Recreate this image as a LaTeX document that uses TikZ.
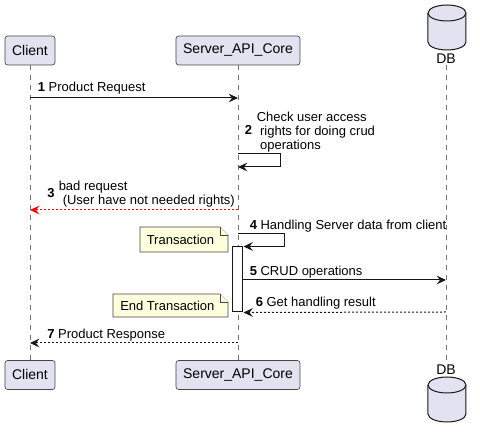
\documentclass[tikz,border=0pt]{standalone}
\usepackage{fontspec}
\setmainfont{Liberation Sans}
\usepackage{tikz}
\usetikzlibrary{arrows.meta}

\begin{document}
\begin{tikzpicture}[
      x=0.75pt, y=-0.75pt,
      font=\fontsize{9.75}{10.5}\selectfont,
      part/.style={rectangle, rounded corners=2pt, draw=seqline!80, line width=0.5pt, fill=seqpart,
        minimum height=21.75pt, inner xsep=4.5pt, font=\fontsize{10.5}{12}\selectfont},
      dbname/.style={inner sep=0.5pt, font=\fontsize{10.5}{12}\selectfont},
      cyl/.style={draw=seqline, line width=0.75pt, fill=seqpart},
      life/.style={draw=seqline!60, line width=0.5pt, dash pattern=on 3.75pt off 3.75pt},
      msg/.style={-{Stealth[length=7pt, width=6.5pt, inset=2.5pt]}, line width=0.75pt, seqline},
      reply/.style={msg, dash pattern=on 1.5pt off 1.5pt},
      lbl/.style={anchor=base west, inner sep=0pt},
      notebox/.style={draw=seqline!80, line width=0.5pt, fill=seqnote},
      act/.style={rectangle, draw=seqline, line width=0.75pt, fill=white,
        minimum width=7.5pt, minimum height=48.75pt, inner sep=0pt},
    ]
    \definecolor{seqpart}{RGB}{226,226,240}
    \definecolor{seqnote}{RGB}{254,255,221}
    \definecolor{seqline}{RGB}{24,24,24}
    \definecolor{seqred}{RGB}{255,0,0}

    \useasboundingbox (0,0) rectangle (480,438);

    \node[part, minimum width=37.5pt] (clientT) at (30,50.5) {Client};
    \node[part, minimum width=93pt]   (serverT) at (238,50.5) {Server\_API\_Core};
    \node[part, minimum width=37.5pt] (clientB) at (30,375) {Client};
    \node[part, minimum width=93pt]   (serverB) at (238,375) {Server\_API\_Core};

    % database, top and bottom
    \draw[cyl] (428,13) -- (428,42) arc[start angle=180, end angle=360, x radius=14.25pt, y radius=6pt]
      -- (466,13) arc[start angle=0, end angle=180, x radius=14.25pt, y radius=6pt] -- cycle;
    \draw[cyl] (428,13) arc[start angle=180, end angle=360, x radius=14.25pt, y radius=6pt];
    \node[dbname] (dbT) at (446,59) {DB};
    \node[dbname] (dbB) at (446,370) {DB};
    \draw[cyl] (428,385) -- (428,414) arc[start angle=180, end angle=360, x radius=14.25pt, y radius=6pt]
      -- (466,385) arc[start angle=0, end angle=180, x radius=14.25pt, y radius=6pt] -- cycle;
    \draw[cyl] (428,385) arc[start angle=180, end angle=360, x radius=14.25pt, y radius=6pt];

    \draw[life] (clientT) -- (clientB);
    \draw[life] (serverT) -- (serverB);
    \draw[life] (dbT) -- (dbB);

    \node[act] (act) at (238,279.5) {};

    \coordinate (c1) at (30,98);
    \coordinate (s1) at (238,98);
    \draw[msg] (c1) -- (s1);
    \node[lbl] (m1) at (37.5,91.5) {\textbf{1} Product Request};

    \coordinate (s2a) at (238,154);
    \coordinate (s2b) at (238,167);
    \draw[msg] (s2a) -- ++(43,0) |- (s2b);
    \node[lbl] (n2) at (244.5,135) {\textbf{2}};
    \node[lbl] (m2) at (256.5,121.5) {\begin{tabular}[t]{@{}l@{}}Check user access\\
      \hspace*{2.5pt}rights for doing crud\\ \hspace*{2.5pt}operations\end{tabular}};

    \coordinate (s3) at (238,210);
    \coordinate (c3) at (30,210);
    \draw[reply, seqred] (s3) -- (c3);
    \node[lbl] (n3) at (47,198) {\textbf{3}};
    \node[lbl] (m3) at (58.5,190.5) {\begin{tabular}[t]{@{}l@{}}bad request\\
      \hspace*{3pt}(User have not needed rights)\end{tabular}};

    \coordinate (s4) at (238,234);
    \draw[msg] (s4) -- ++(47,0) |- (act.north east);
    \node[lbl] (m4) at (249.5,230) {\textbf{4} Handling Server data from client};

    \draw[notebox] (140,227) -- (220,227) -- (228,235) -- (228,252) -- (140,252) -- cycle;
    \draw[notebox] (220,227) -- (220,235) -- (228,235);
    \node[anchor=west, inner sep=0pt] (trans) at (146.5,239.5) {Transaction};

    \coordinate (d5) at (446,280);
    \draw[msg] (act.east |- d5) -- (d5);
    \node[lbl] (m5) at (249.5,275.5) {\textbf{5} CRUD operations};

    \coordinate (d6) at (446,312);
    \draw[reply] (d6) -- (act.south east);
    \node[lbl] (m6) at (255.5,306.5) {\textbf{6} Get handling result};

    \draw[notebox] (113,294) -- (220,294) -- (228,302) -- (228,317) -- (113,317) -- cycle;
    \draw[notebox] (220,294) -- (220,302) -- (228,302);
    \node[anchor=west, inner sep=0pt] (endtrans) at (120,305.5) {End Transaction};

    \coordinate (s7) at (238,343);
    \coordinate (c7) at (30,343);
    \draw[reply] (s7) -- (c7);
    \node[lbl] (m7) at (47,338.5) {\textbf{7} Product Response};
  \end{tikzpicture}
\end{document}
